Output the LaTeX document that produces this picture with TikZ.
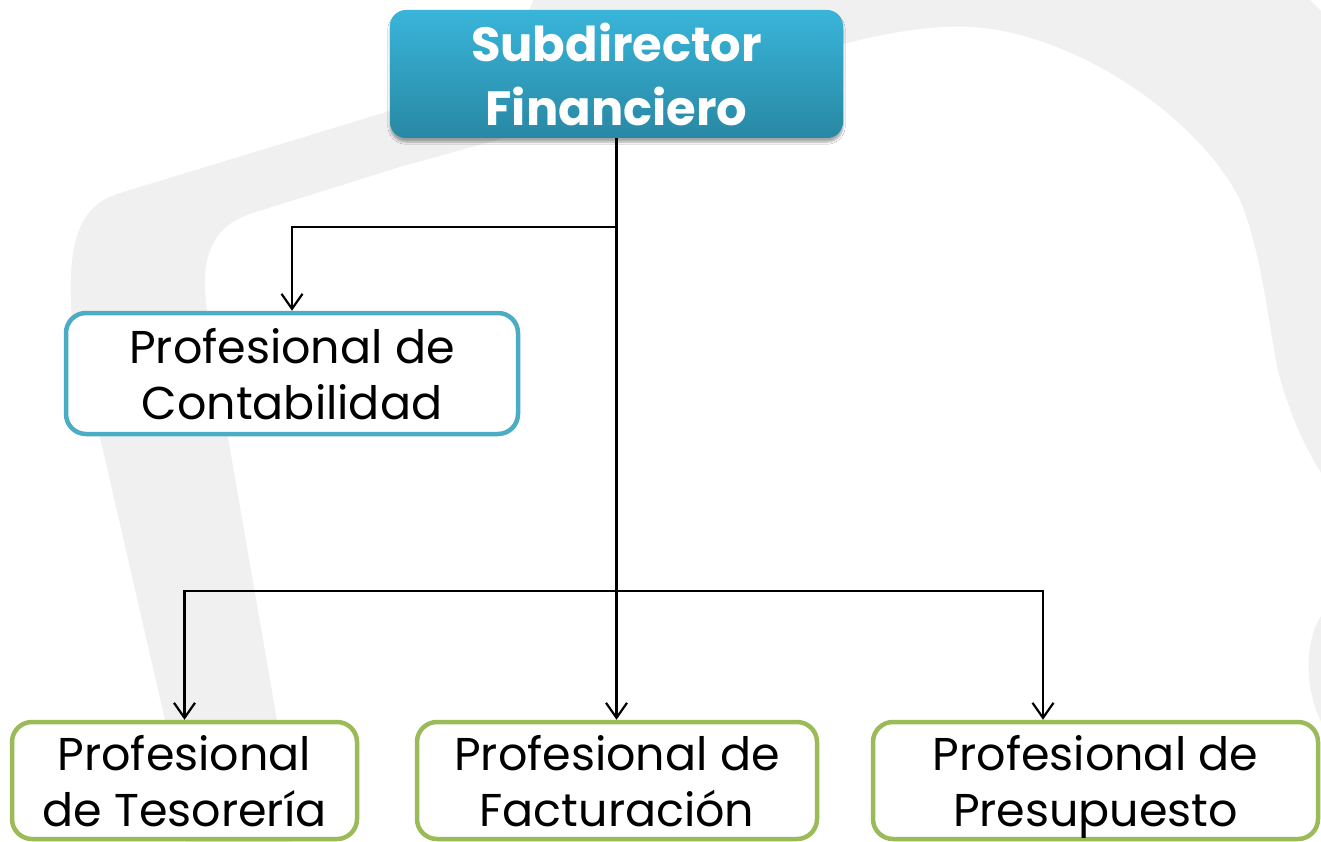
\documentclass[tikz,border=0pt]{standalone}
\usepackage{fontspec}
\setmainfont{Poppins}
\usetikzlibrary{arrows.meta,shadows.blur,calc}
\definecolor{wmgray}{RGB}{240,240,240}
\definecolor{topA}{RGB}{57,181,217}
\definecolor{topB}{RGB}{40,136,164}
\definecolor{bluebd}{RGB}{75,172,198}
\definecolor{greenbd}{RGB}{155,187,89}
\tikzset{
  headbox/.style={rectangle, rounded corners=16pt, minimum width=453pt, minimum height=128pt,
    inner sep=0pt, top color=topA, bottom color=topB, draw=none, text=white, align=center,
    font=\fontsize{48}{64}\selectfont\bfseries,
    blur shadow={shadow xshift=0pt, shadow yshift=-4pt, shadow blur steps=6, shadow opacity=35}},
  bluebox/.style={rectangle, rounded corners=20pt, draw=bluebd, line width=4.5pt, fill=white,
    inner sep=0pt, align=center, text depth=0pt, font=\fontsize{46}{56}\selectfont},
  greenbox/.style={rectangle, rounded corners=20pt, draw=greenbd, line width=4.5pt, fill=white,
    inner sep=0pt, align=center, text depth=0pt, font=\fontsize{46}{56}\selectfont},
  conn/.style={line width=2.2pt, -{Straight Barb[length=15pt,width=21pt]}}
}
\begin{document}
\begin{tikzpicture}[x=1pt,y=-1pt]
\useasboundingbox (0,0) rectangle (1321,842);
\fill[white] (0,0) rectangle (1321,842);
% watermark
\begin{scope}
\clip (0,0) rectangle (1321,842);
\fill[wmgray] (195,900) -- (165,720) -- (100,437) -- (72,320)
  .. controls (66,240) and (80,205) .. (120,193) -- (383,113)
  .. controls (470,85) and (530,40) .. (538,-20) -- (1290,-20) -- (1330,20) -- (1400,20)
  -- (1400,900) -- cycle;
\fill[white] (300,900) -- (277,720) -- (228,437) -- (207,310)
  .. controls (200,260) and (210,228) .. (250,214) -- (400,167) -- (847,43)
  .. controls (900,30) and (940,25) .. (973,27)
  .. controls (1080,35) and (1200,120) .. (1240,200)
  .. controls (1260,250) and (1265,300) .. (1277,367)
  .. controls (1285,400) and (1300,440) .. (1321,473) -- (1400,600) -- (1400,900) -- cycle;
\fill[wmgray] (1340,600) .. controls (1300,615) and (1300,700) .. (1330,735) -- cycle;
\end{scope}
% nodes
\node[headbox] (top) at (616.5,74) {Subdirector\\Financiero};
\node[bluebox, minimum width=452pt, minimum height=121pt] (cont) at (292,373.5) {Profesional de\\Contabilidad};
\node[greenbox, minimum width=345pt, minimum height=117pt] (tes) at (184.5,780.5) {Profesional\\de Tesorería};
\node[greenbox, minimum width=400pt, minimum height=117pt] (fac) at (617,780.5) {Profesional de\\Facturación};
\node[greenbox, minimum width=445pt, minimum height=117pt] (pres) at (1095.5,780.5) {Profesional de\\Presupuesto};
% junctions
\coordinate (y1) at (0,227);
\coordinate (y2) at (0,591);
\coordinate (px) at (1043,591);
\coordinate (j1) at (top.south |- y1);
\coordinate (j2) at (top.south |- y2);
\coordinate (presin) at (px |- pres.north);
% connectors
\draw[conn] (top.south) -- (top.south |- fac.north);
\draw[conn] (j1) -| (cont.north);
\draw[conn] (j2) -| (tes.north);
\draw[conn] (j2) -| (presin);
\end{tikzpicture}
\end{document}
